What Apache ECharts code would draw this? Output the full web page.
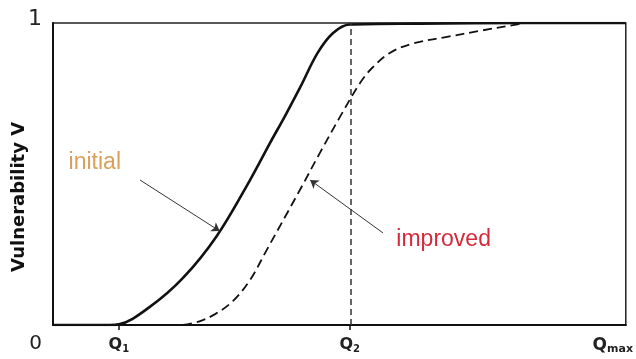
<!DOCTYPE html>
<html>
<head>
<meta charset="utf-8">
<script src="https://cdn.jsdelivr.net/npm/echarts@6/dist/echarts.min.js"></script>
<style>
  html, body { margin: 0; padding: 0; background: #fff; }
  #chart { width: 636px; height: 359px; }
</style>
</head>
<body>
<div id="chart"></div>
<script>
// Q positions on the normalised flow axis (0..1 = 0..Qmax)
const q1 = 0.115;
const q2 = 0.518;
const xTicks = [0, q1, q2, 1];
const xTickNames = ['', 'Q1', 'Q2', 'Qmax'];

// vulnerability curves
const initialCurve = [
  [0, 0], [0.099, 0], [0.115, 0.002], [0.169, 0.060], [0.227, 0.156],
  [0.286, 0.295], [0.344, 0.480], [0.379, 0.603], [0.405, 0.692],
  [0.431, 0.785], [0.462, 0.901], [0.489, 0.967], [0.518, 0.995],
  [0.640, 0.998], [0.824, 1.0], [1, 1]
];
const improvedCurve = [
  [0.227, 0], [0.257, 0.013], [0.283, 0.036], [0.314, 0.079],
  [0.344, 0.149], [0.373, 0.248], [0.431, 0.447], [0.466, 0.570],
  [0.501, 0.689], [0.536, 0.801], [0.557, 0.851], [0.588, 0.901],
  [0.628, 0.932], [0.688, 0.954], [0.745, 0.974], [0.803, 0.993],
  [0.824, 1.0]
];

// annotation arrows [from, to]
const initialArrow = [[0.152, 0.480], [0.291, 0.311]];
const improvedArrow = [[0.576, 0.305], [0.449, 0.480]];
const initialLabelAt = [0.073, 0.536];
const improvedLabelAt = [0.682, 0.281];

let chart = echarts.init(document.getElementById('chart'));

let option = {
  animation: false,
  grid: {
    left: 53, right: 10, top: 23, bottom: 34,
    show: true,
    borderColor: '#222',
    borderWidth: 1.5
  },
  xAxis: {
    type: 'value',
    min: 0,
    max: 1,
    splitLine: { show: false },
    axisLine: { lineStyle: { color: '#111', width: 2 } },
    axisTick: {
      show: true,
      customValues: [q1, q2],
      length: 5,
      lineStyle: { color: '#111', width: 1.5 }
    },
    axisLabel: {
      customValues: xTicks,
      margin: 11,
      formatter: function (v) {
        let i = xTicks.indexOf(v);
        if (i < 0) return '';
        let n = xTickNames[i];
        if (n === 'Q1') return '{q|Q}{s|1}';
        if (n === 'Q2') return '{q|Q}{s|2}';
        if (n === 'Qmax') return '{mq|Q}{ms|max}';
        return '';
      },
      rich: {
        q: { fontFamily: 'DejaVu Sans', fontWeight: 'bold', fontSize: 16, color: '#222' },
        s: { fontFamily: 'DejaVu Sans', fontWeight: 'bold', fontSize: 10, color: '#222', padding: [8, 0, 0, 0] },
        mq: { fontFamily: 'DejaVu Sans', fontWeight: 'bold', fontSize: 17, color: '#222' },
        ms: { fontFamily: 'DejaVu Sans', fontWeight: 'bold', fontSize: 11, color: '#222', padding: [8, 26, 0, 0] }
      }
    }
  },
  yAxis: {
    type: 'value',
    min: 0,
    max: 1,
    splitLine: { show: false },
    axisLine: { show: true, lineStyle: { color: '#111', width: 2 } },
    axisTick: { show: false },
    axisLabel: {
      customValues: [0, 1],
      margin: 11,
      formatter: function (v) {
        return v === 0 ? '{z|0}' : '{o|1}';
      },
      rich: {
        z: { fontFamily: 'DejaVu Sans', fontSize: 20, color: '#222', padding: [38, 0, 0, 0] },
        o: { fontFamily: 'DejaVu Sans', fontSize: 22, color: '#222', padding: [0, 0, 8, 0] }
      }
    }
  },
  graphic: [{
    type: 'text',
    x: 19,
    y: 197,
    rotation: Math.PI / 2,
    style: {
      text: 'Vulnerability V',
      fontFamily: 'DejaVu Sans',
      fontWeight: 'bold',
      fontSize: 18,
      fill: '#111',
      align: 'center',
      verticalAlign: 'middle'
    }
  }],
  series: [{
    name: 'initial',
    type: 'line',
    data: initialCurve,
    smooth: 0.35,
    showSymbol: false,
    lineStyle: { color: '#111', width: 2.6 },
    markLine: {
      silent: true,
      symbol: ['none', 'none'],
      label: { show: false },
      lineStyle: { color: '#333', type: [6, 4], width: 1.5 },
      data: [{ xAxis: q2 }]
    },
    markPoint: {
      silent: true,
      symbol: 'circle',
      symbolSize: 0,
      data: [{
        coord: initialLabelAt,
        label: {
          show: true,
          formatter: 'initial',
          fontFamily: 'Liberation Sans',
          fontSize: 23,
          color: '#d9a05b'
        }
      }, {
        coord: improvedLabelAt,
        label: {
          show: true,
          formatter: 'improved',
          fontFamily: 'Liberation Sans',
          fontSize: 23,
          color: '#d42a3c'
        }
      }]
    }
  }, {
    name: 'improved',
    type: 'line',
    data: improvedCurve,
    smooth: 0.35,
    showSymbol: false,
    lineStyle: { color: '#111', width: 1.8, type: [9, 5] },
    markLine: {
      silent: true,
      symbol: ['none', 'arrow'],
      symbolSize: 8,
      label: { show: false },
      lineStyle: { color: '#333', type: 'solid', width: 1 },
      data: [
        [{ coord: initialArrow[0] }, { coord: initialArrow[1] }],
        [{ coord: improvedArrow[0] }, { coord: improvedArrow[1] }]
      ]
    }
  }]
};

chart.setOption(option);
</script>
</body>
</html>
